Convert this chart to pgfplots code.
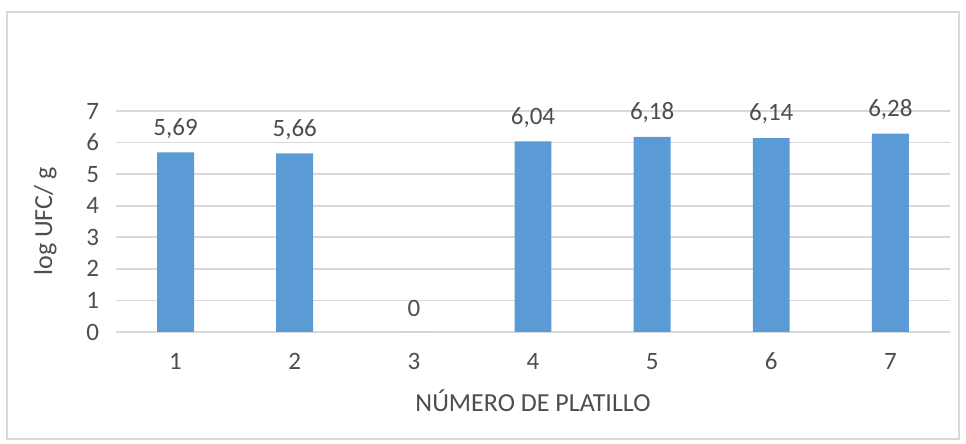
\documentclass[border=0pt]{standalone}
\usepackage{pgfplots}
\pgfplotsset{compat=1.18}
\usepackage{fontspec}
\setmainfont{Carlito}
\definecolor{barblue}{HTML}{5B9BD5}
\definecolor{txtgray}{HTML}{4D4D4D}
\definecolor{gridgray}{HTML}{D9D9D9}
\begin{document}
\begin{tikzpicture}
\useasboundingbox (-58pt,-56pt) rectangle (425pt,166pt);
\draw[gridgray, line width=0.6pt] (-54.5pt,-53.5pt) rectangle (421.5pt,160pt);
\begin{axis}[
  at={(0,0)}, anchor=south west,
  scale only axis,
  width=417pt, height=110.5pt,
  xmin=0.5, xmax=7.5,
  ymin=0, ymax=7,
  ytick={0,1,...,7},
  xtick={1,...,7},
  major tick length=0pt,
  axis line style={draw=none},
  ymajorgrids,
  grid style={gridgray, line width=0.8pt},
  /pgf/number format/assume math mode=true,
  ticklabel style={font=\fontsize{12.5}{15}\selectfont, text=txtgray},
  yticklabel style={xshift=-5pt},
  xticklabel style={yshift=-7pt},
  xlabel={NÚMERO DE PLATILLO},
  ylabel={log UFC/ g},
  label style={font=\fontsize{13}{15}\selectfont, text=txtgray},
  xlabel style={yshift=-3pt},
  ylabel style={yshift=8pt},
  nodes near coords={\pgfmathprintnumber[use comma, fixed, precision=2, assume math mode=true]{\pgfplotspointmeta}},
  nodes near coords style={font=\fontsize{12.5}{15}\selectfont, text=txtgray, anchor=center, yshift=12pt},
  point meta=explicit,
  clip=false,
]
\addplot[ybar, bar width=0.31, fill=barblue, draw=none, bar shift=0pt]
  coordinates {(1,5.69)[5.69] (2,5.66)[5.66] (3,0)[0] (4,6.04)[6.04] (5,6.18)[6.18] (6,6.14)[6.14] (7,6.28)[6.28]};
\end{axis}
\end{tikzpicture}
\end{document}
